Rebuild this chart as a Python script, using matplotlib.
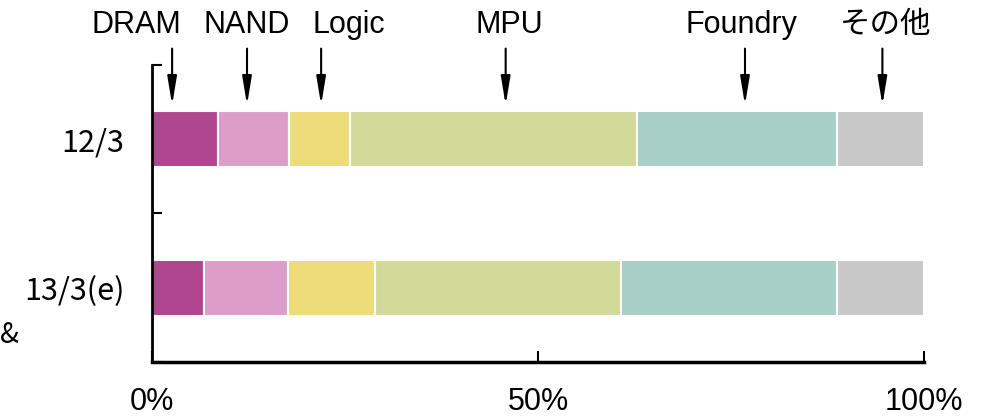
import matplotlib
matplotlib.use("Agg")
import matplotlib.pyplot as plt
from matplotlib import font_manager
import numpy as np

# shares (%)
periods = ["12/3", "13/3(e)"]
segments = ["DRAM", "NAND", "Logic", "MPU", "Foundry", "その他"]
share_12 = [8.6, 9.2, 7.9, 37.1, 25.9, 11.3]
share_13 = [6.7, 10.9, 11.3, 31.8, 28.0, 11.3]
colors = ["#B0468F", "#DC9EC8", "#EEDC7A", "#D2DA99", "#A7CFC7", "#C8C8C8"]

# where the arrows point (x in %) and where their labels sit
arrow_x = [2.6, 12.3, 21.9, 45.8, 76.8, 94.6]
label_x = [-2.0, 12.3, 25.5, 46.3, 76.4, 95.0]

names = {f.name for f in font_manager.fontManager.ttflist}
narrow = "Liberation Sans Narrow" if "Liberation Sans Narrow" in names else "Liberation Sans"
jp = "Noto Sans CJK JP"

fig = plt.figure(figsize=(9.81, 4.19), dpi=100)
ax = fig.add_axes([0.155, 0.136, 0.787, 0.709])

data = np.array([share_13, share_12])  # bottom to top
ypos = [0.5, 1.5]
left = np.zeros(2)
for i in range(len(segments)):
    ax.barh(ypos, data[:, i], left=left, height=0.38, color=colors[i],
            edgecolor="white", linewidth=1.5)
    left += data[:, i]

ax.set_xlim(0, 100)
ax.set_ylim(0, 2)
for s in ["top", "right"]:
    ax.spines[s].set_visible(False)
ax.spines["left"].set_linewidth(2)
ax.spines["bottom"].set_linewidth(2.5)

ax.set_xticks([0, 50, 100])
ax.set_xticklabels(["0%", "50%", "100%"], fontfamily=narrow, fontsize=22)
ax.tick_params(axis="x", direction="in", length=8, width=1.5, pad=18)

ax.set_yticks([0, 1, 2])
ax.set_yticklabels([])
ax.set_yticks(ypos, minor=True)
ax.set_yticklabels(periods[::-1], minor=True, fontfamily=jp, fontsize=22)
ax.tick_params(axis="y", which="major", direction="in", length=7, width=1.5)
ax.tick_params(axis="y", which="minor", length=0, pad=20)

tr = ax.get_xaxis_transform()
for name, ax_, lx in zip(segments, arrow_x, label_x):
    ax.annotate("", xy=(ax_, 0.865), xytext=(ax_, 1.055), xycoords=tr,
                textcoords=tr,
                arrowprops=dict(arrowstyle="-|>,head_length=1.7,head_width=0.28",
                                color="black", lw=1.5, shrinkA=0, shrinkB=0),
                annotation_clip=False)
    fam = jp if name == "その他" else "Liberation Sans"
    ax.text(lx, 1.135, name, transform=tr, ha="center", va="center",
            fontsize=22, fontfamily=fam, clip_on=False)

fig.text(0.0, 0.2, "&", fontsize=20, fontfamily=jp, ha="left", va="center")

fig.savefig("out.png", dpi=100)
